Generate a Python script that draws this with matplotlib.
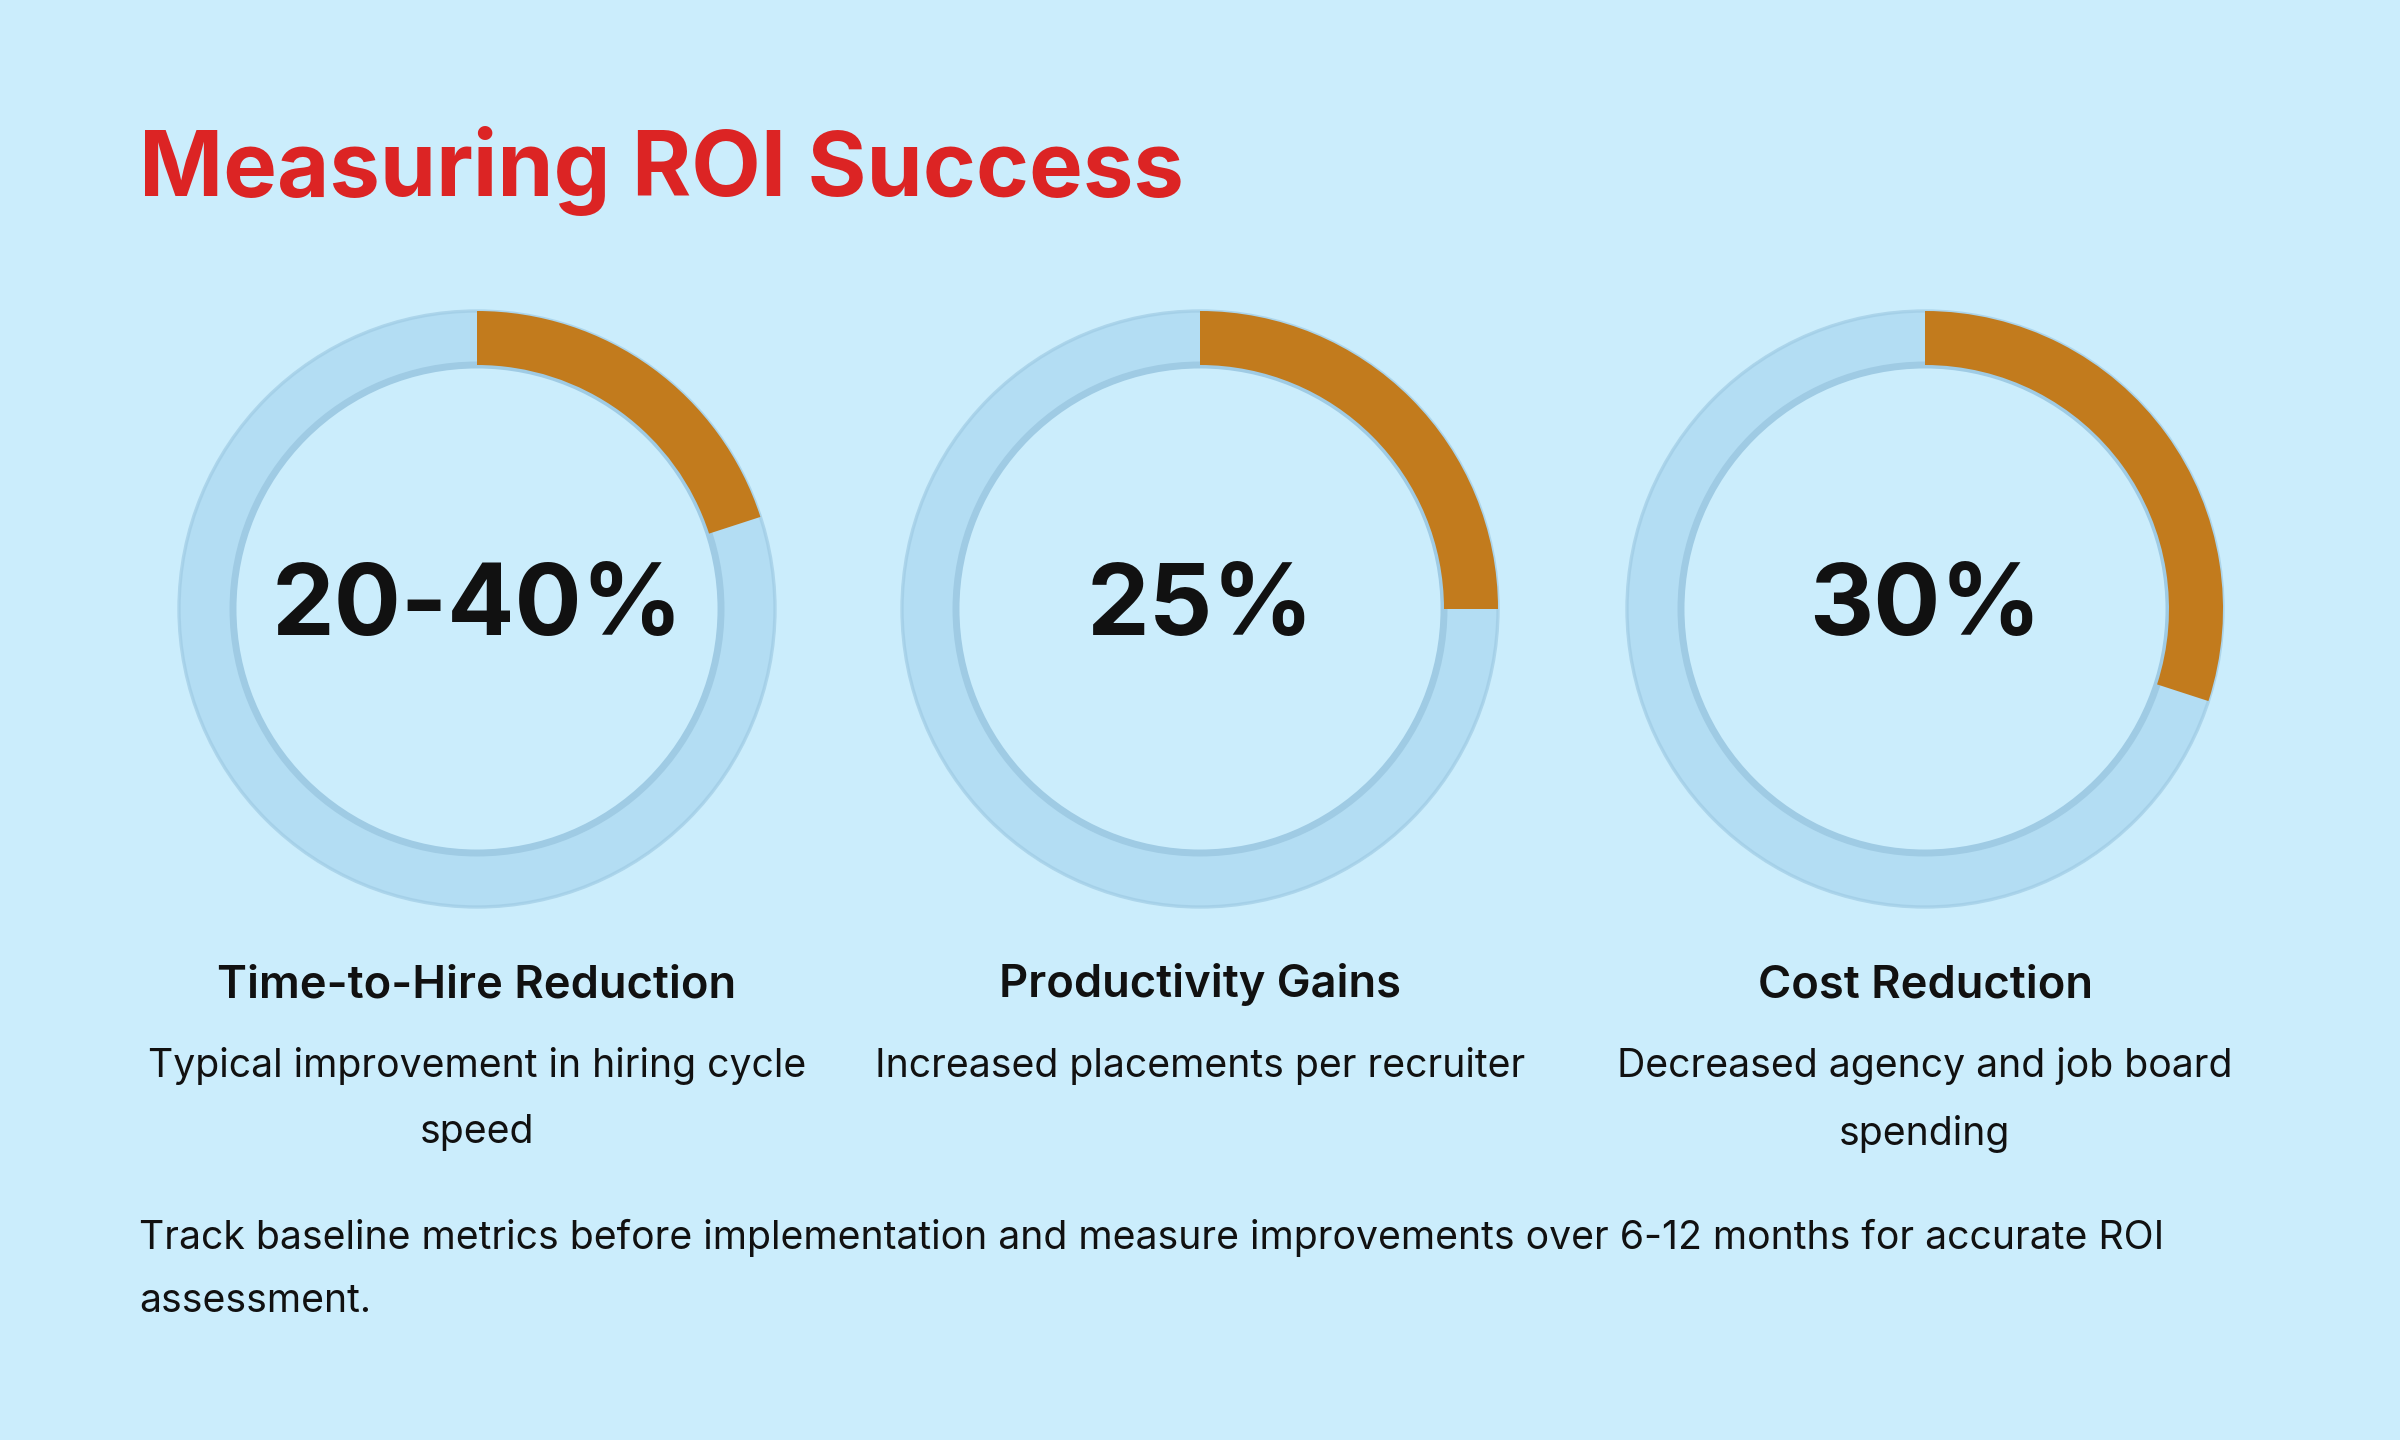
import matplotlib
matplotlib.use("Agg")
import matplotlib.pyplot as plt
from matplotlib.patches import Wedge, Circle

# data
values = [20, 25, 30]            # share of ring filled (percent)
big_labels = ["20-40%", "25%", "30%"]
titles = ["Time-to-Hire Reduction", "Productivity Gains", "Cost Reduction"]
descs = ["Typical improvement in hiring cycle\nspeed",
         "Increased placements per recruiter",
         "Decreased agency and job board\nspending"]
footer = ("Track baseline metrics before implementation and measure improvements over 6-12 months for accurate ROI\n"
          "assessment.")

PALETTE = {
    "bg":     "#cbedfc",
    "track":  "#b3ddf3",
    "edge":   "#9fcbe4",
    "fill":   "#c27b1d",
    "title":  "#dc2424",
    "text":   "#111111",
}

plt.rcParams["font.family"] = ["Inter", "DejaVu Sans"]

W, H = 2400, 1440
fig = plt.figure(figsize=(12, 7.2), dpi=200)
fig.patch.set_facecolor(PALETTE["bg"])
ax = fig.add_axes([0, 0, 1, 1])
ax.set_xlim(0, W)
ax.set_ylim(H, 0)
ax.set_aspect("equal")
ax.axis("off")
ax.set_facecolor(PALETTE["bg"])

ax.text(139, 196, "Measuring ROI Success", fontsize=32.5, fontweight="bold",
        color=PALETTE["title"], ha="left", va="baseline")

centers = [477, 1200, 1925]
cy = 609
r_out, width = 298, 54

for cx, v, big, t, d in zip(centers, values, big_labels, titles, descs):
    # track ring (y axis is inverted, so angles run clockwise on screen)
    ax.add_patch(Wedge((cx, cy), r_out, 0, 360, width=width,
                       facecolor=PALETTE["track"], edgecolor="none"))
    ax.add_patch(Circle((cx, cy), r_out, fill=False,
                        edgecolor=PALETTE["edge"], linewidth=1.2, alpha=0.7))
    ax.add_patch(Circle((cx, cy), r_out - width, fill=False,
                        edgecolor=PALETTE["edge"], linewidth=2.5))
    # progress arc starting at 12 o'clock going clockwise
    ax.add_patch(Wedge((cx, cy), r_out, -90, -90 + 360 * v / 100, width=width,
                       facecolor=PALETTE["fill"], edgecolor="none"))

    ax.text(cx, cy, big, fontsize=35.8, fontweight="bold", color=PALETTE["text"],
            ha="center", va="center")
    ax.text(cx, 985, t, fontsize=16.3, fontweight="semibold", color=PALETTE["text"],
            ha="center", va="center")
    ax.text(cx, 1047, d, fontsize=14.1, color=PALETTE["text"],
            ha="center", va="top", linespacing=2.0)

ax.text(139, 1219, footer, fontsize=14.1, color=PALETTE["text"],
        ha="left", va="top", linespacing=1.9)

fig.savefig("out.png", dpi=200, facecolor=fig.get_facecolor())
